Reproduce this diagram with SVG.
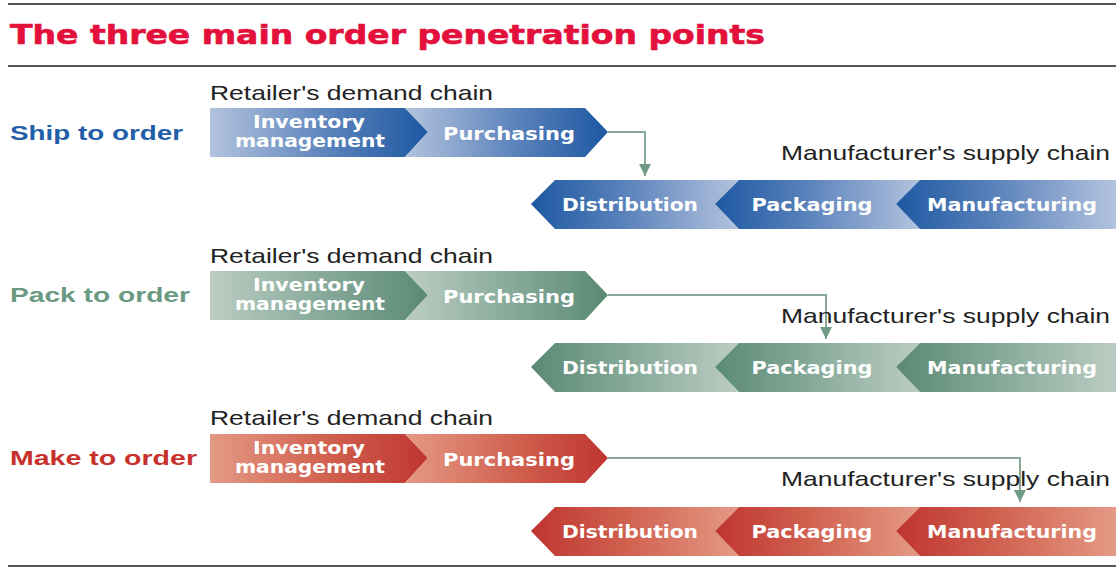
<svg xmlns="http://www.w3.org/2000/svg" width="1116" height="568" viewBox="0 0 1116 568">
<defs>
<linearGradient id="bR" x1="0" y1="0" x2="1" y2="0"><stop offset="0" stop-color="#b3c3de"/><stop offset="0.55" stop-color="#5a82bb"/><stop offset="1" stop-color="#1d58a2"/></linearGradient>
<linearGradient id="bL" x1="0" y1="0" x2="1" y2="0"><stop offset="0" stop-color="#1d58a2"/><stop offset="0.45" stop-color="#5a82bb"/><stop offset="1" stop-color="#b3c3de"/></linearGradient>
<linearGradient id="gR" x1="0" y1="0" x2="1" y2="0"><stop offset="0" stop-color="#bccdc3"/><stop offset="0.55" stop-color="#84a898"/><stop offset="1" stop-color="#5a8a73"/></linearGradient>
<linearGradient id="gL" x1="0" y1="0" x2="1" y2="0"><stop offset="0" stop-color="#5a8a73"/><stop offset="0.45" stop-color="#84a898"/><stop offset="1" stop-color="#bccdc3"/></linearGradient>
<linearGradient id="rR" x1="0" y1="0" x2="1" y2="0"><stop offset="0" stop-color="#e49a86"/><stop offset="0.55" stop-color="#d0604e"/><stop offset="1" stop-color="#bf3530"/></linearGradient>
<linearGradient id="rL" x1="0" y1="0" x2="1" y2="0"><stop offset="0" stop-color="#bf3530"/><stop offset="0.45" stop-color="#d0604e"/><stop offset="1" stop-color="#e49a86"/></linearGradient>
<marker id="ah" viewBox="0 0 12 12" refX="12" refY="6" markerWidth="12" markerHeight="12" orient="auto" markerUnits="userSpaceOnUse"><path d="M0,0 L12,6 L0,12 Z" fill="#6f9a84"/></marker>
</defs>
<style>
.rule{stroke:#555;stroke-width:2}
.title{font-family:"DejaVu Sans",sans-serif;font-weight:bold;font-size:26px;fill:#e3103c;stroke:#e3103c;stroke-width:0.6}
.lab{font-family:"Liberation Sans",Arial,sans-serif;font-size:21px;fill:#222}
.row{font-family:"Liberation Sans",Arial,sans-serif;font-weight:bold;font-size:21px}
.ct{font-family:"DejaVu Sans",sans-serif;font-weight:bold;font-size:17px;fill:#fff;text-anchor:middle}
.conn{fill:none;stroke:#8aa898;stroke-width:2}
</style>
<rect width="1116" height="568" fill="#fff"/>
<line class="rule" x1="8" y1="4" x2="1116" y2="4"/>
<line class="rule" x1="8" y1="66" x2="1116" y2="66"/>
<line class="rule" x1="8" y1="566" x2="1116" y2="566"/>
<text class="title" x="10" y="44" textLength="755" lengthAdjust="spacingAndGlyphs">The three main order penetration points</text>

<g id="connectors">
<polyline class="conn" points="608,132 645,132 645,176" marker-end="url(#ah)"/>
<polyline class="conn" points="608,295 826,295 826,339" marker-end="url(#ah)"/>
<polyline class="conn" points="608,458 1020,458 1020,502" marker-end="url(#ah)"/>
</g>

<!-- Row 1 -->
<g id="ship">
<text class="row" x="10" y="140" fill="#2160a8" textLength="173" lengthAdjust="spacingAndGlyphs">Ship to order</text>
<text class="lab" x="210" y="100" textLength="283" lengthAdjust="spacingAndGlyphs">Retailer's demand chain</text>
<text class="lab" x="1110" y="160" text-anchor="end" textLength="329" lengthAdjust="spacingAndGlyphs">Manufacturer's supply chain</text>
</g>
<g id="ship-inventory"><polygon points="210,108 405,108 428,132 405,157 210,157" fill="url(#bR)"/><text class="ct" x="309" y="128" textLength="112" lengthAdjust="spacingAndGlyphs">Inventory</text><text class="ct" x="310" y="147" textLength="150" lengthAdjust="spacingAndGlyphs">management</text></g>
<g id="ship-purchasing"><polygon points="405,108 585,108 608,132 585,157 405,157 428,132" fill="url(#bR)"/><text class="ct" x="509" y="140" textLength="132" lengthAdjust="spacingAndGlyphs">Purchasing</text></g>
<g id="ship-distribution"><polygon points="531,204 555,180 739,180 715,204 739,229 555,229" fill="url(#bL)"/><text class="ct" x="630" y="211" textLength="136" lengthAdjust="spacingAndGlyphs">Distribution</text></g>
<g id="ship-packaging"><polygon points="715,204 739,180 920,180 896,204 920,229 739,229" fill="url(#bL)"/><text class="ct" x="812" y="211" textLength="121" lengthAdjust="spacingAndGlyphs">Packaging</text></g>
<g id="ship-manufacturing"><polygon points="896,204 920,180 1116,180 1116,229 920,229" fill="url(#bL)"/><text class="ct" x="1012" y="211" textLength="170" lengthAdjust="spacingAndGlyphs">Manufacturing</text></g>

<!-- Row 2 -->
<g id="pack">
<text class="row" x="10" y="302" fill="#6b9a82" textLength="180" lengthAdjust="spacingAndGlyphs">Pack to order</text>
<text class="lab" x="210" y="263" textLength="283" lengthAdjust="spacingAndGlyphs">Retailer's demand chain</text>
<text class="lab" x="1110" y="323" text-anchor="end" textLength="329" lengthAdjust="spacingAndGlyphs">Manufacturer's supply chain</text>
</g>
<g id="pack-inventory"><polygon points="210,271 405,271 428,295 405,320 210,320" fill="url(#gR)"/><text class="ct" x="309" y="291" textLength="112" lengthAdjust="spacingAndGlyphs">Inventory</text><text class="ct" x="310" y="310" textLength="150" lengthAdjust="spacingAndGlyphs">management</text></g>
<g id="pack-purchasing"><polygon points="405,271 585,271 608,295 585,320 405,320 428,295" fill="url(#gR)"/><text class="ct" x="509" y="303" textLength="132" lengthAdjust="spacingAndGlyphs">Purchasing</text></g>
<g id="pack-distribution"><polygon points="531,367 555,343 739,343 715,367 739,392 555,392" fill="url(#gL)"/><text class="ct" x="630" y="374" textLength="136" lengthAdjust="spacingAndGlyphs">Distribution</text></g>
<g id="pack-packaging"><polygon points="715,367 739,343 920,343 896,367 920,392 739,392" fill="url(#gL)"/><text class="ct" x="812" y="374" textLength="121" lengthAdjust="spacingAndGlyphs">Packaging</text></g>
<g id="pack-manufacturing"><polygon points="896,367 920,343 1116,343 1116,392 920,392" fill="url(#gL)"/><text class="ct" x="1012" y="374" textLength="170" lengthAdjust="spacingAndGlyphs">Manufacturing</text></g>

<!-- Row 3 -->
<g id="make">
<text class="row" x="10" y="465" fill="#c8302b" textLength="187" lengthAdjust="spacingAndGlyphs">Make to order</text>
<text class="lab" x="210" y="425" textLength="283" lengthAdjust="spacingAndGlyphs">Retailer's demand chain</text>
<text class="lab" x="1110" y="486" text-anchor="end" textLength="329" lengthAdjust="spacingAndGlyphs">Manufacturer's supply chain</text>
</g>
<g id="make-inventory"><polygon points="210,434 405,434 428,458 405,483 210,483" fill="url(#rR)"/><text class="ct" x="309" y="454" textLength="112" lengthAdjust="spacingAndGlyphs">Inventory</text><text class="ct" x="310" y="473" textLength="150" lengthAdjust="spacingAndGlyphs">management</text></g>
<g id="make-purchasing"><polygon points="405,434 585,434 608,458 585,483 405,483 428,458" fill="url(#rR)"/><text class="ct" x="509" y="466" textLength="132" lengthAdjust="spacingAndGlyphs">Purchasing</text></g>
<g id="make-distribution"><polygon points="531,531 555,507 739,507 715,531 739,556 555,556" fill="url(#rL)"/><text class="ct" x="630" y="538" textLength="136" lengthAdjust="spacingAndGlyphs">Distribution</text></g>
<g id="make-packaging"><polygon points="715,531 739,507 920,507 896,531 920,556 739,556" fill="url(#rL)"/><text class="ct" x="812" y="538" textLength="121" lengthAdjust="spacingAndGlyphs">Packaging</text></g>
<g id="make-manufacturing"><polygon points="896,531 920,507 1116,507 1116,556 920,556" fill="url(#rL)"/><text class="ct" x="1012" y="538" textLength="170" lengthAdjust="spacingAndGlyphs">Manufacturing</text></g>
</svg>
